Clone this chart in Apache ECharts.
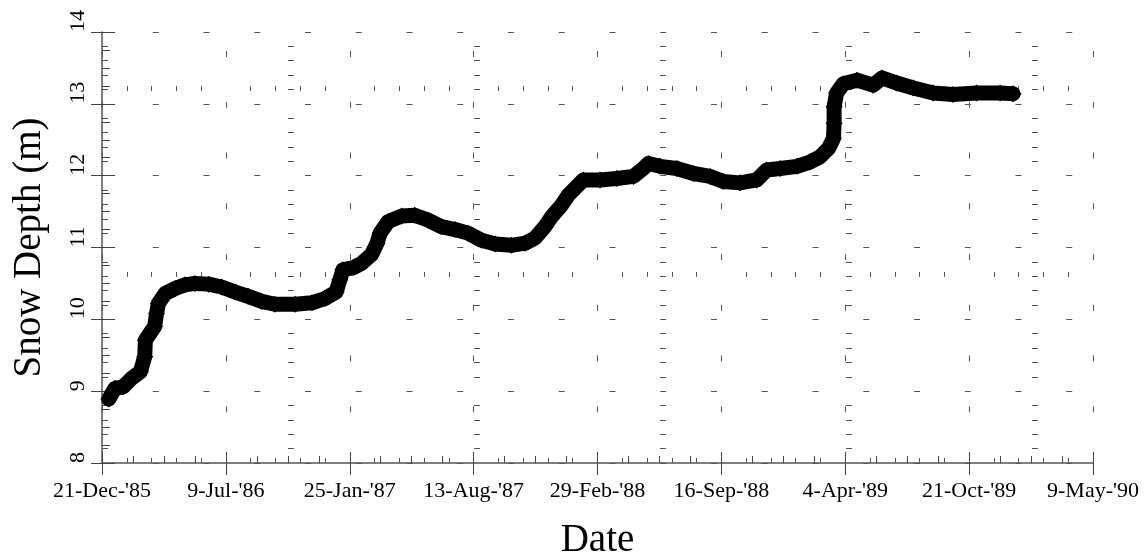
<!DOCTYPE html>
<html>
<head>
<meta charset="utf-8">
<script src="https://cdn.jsdelivr.net/npm/echarts@6/dist/echarts.min.js"></script>
<style>
  html, body { margin: 0; padding: 0; background: #fff; }
  #chart { width: 1146px; height: 555px; }
</style>
</head>
<body>
<div id="chart"></div>
<script>
// Days elapsed since 21-Dec-1985 for each reading
const sampleDay = [
  11, 21, 34, 48, 62, 69, 70, 77, 85, 88, 91, 102, 118, 134, 150, 172, 193, 215,
  236, 258, 279, 312, 339, 360, 378, 384, 389, 406, 419, 435, 444, 449, 462, 484,
  505, 527, 548, 570, 591, 613, 635, 661, 683, 699, 715, 726, 742, 753, 761, 777,
  804, 831, 858, 874, 882, 901, 928, 955, 982, 1003, 1030, 1057, 1073, 1095, 1122,
  1143, 1159, 1173, 1181, 1182, 1182, 1186, 1197, 1219, 1245, 1259, 1283, 1310,
  1342, 1374, 1412, 1450, 1471
];
// Snow depth (m) at each reading
const snowDepth = [
  8.89, 9.04, 9.06, 9.18, 9.27, 9.48, 9.71, 9.80, 9.90, 10.08, 10.22, 10.36, 10.43,
  10.48, 10.50, 10.49, 10.45, 10.38, 10.32, 10.25, 10.21, 10.21, 10.23, 10.29,
  10.38, 10.55, 10.69, 10.72, 10.78, 10.90, 11.06, 11.20, 11.36, 11.44, 11.45,
  11.38, 11.29, 11.25, 11.20, 11.10, 11.05, 11.03, 11.06, 11.13, 11.29, 11.43,
  11.59, 11.73, 11.80, 11.94, 11.94, 11.96, 11.99, 12.10, 12.17, 12.13, 12.10,
  12.03, 11.99, 11.92, 11.90, 11.94, 12.08, 12.10, 12.13, 12.19, 12.26, 12.38,
  12.52, 12.73, 12.96, 13.15, 13.28, 13.33, 13.26, 13.36, 13.29, 13.22, 13.15,
  13.13, 13.15, 13.15, 13.14
];
// Date labels every 200 days
const dateTickLabels = [
  "21-Dec-'85", "9-Jul-'86", "25-Jan-'87", "13-Aug-'87", "29-Feb-'88",
  "16-Sep-'88", "4-Apr-'89", "21-Oct-'89", "9-May-'90"
];
const DAY_STEP = 200;

const serif = "'Liberation Serif', 'Times New Roman', serif";
const tickColor = '#444';
const gridColor = '#555';

const points = sampleDay.map((d, i) => [d, snowDepth[i]]);

const chart = echarts.init(document.getElementById('chart'), null, { renderer: 'canvas' });

chart.setOption({
  animation: false,
  backgroundColor: '#fff',
  grid: { left: 102, right: 53, top: 32, bottom: 92, containLabel: false, outerBoundsMode: 'none' },
  xAxis: [
    {
      type: 'value', position: 'bottom', min: 0, max: 1600, interval: DAY_STEP,
      axisLine: { show: true, onZero: false, lineStyle: { color: '#555', width: 1.5 } },
      axisTick: { show: true, inside: false, length: 12, lineStyle: { color: tickColor } },
      minorTick: { show: false },
      axisLabel: {
        show: true, margin: 17, color: '#000', fontSize: 22, fontFamily: serif,
        formatter: v => dateTickLabels[Math.round(v / DAY_STEP)] || ''
      },
      splitLine: {
        show: true,
        lineStyle: { color: gridColor, width: 1, type: [6, 44.75], dashOffset: 31.75 }
      },
      minorSplitLine: {
        show: true,
        lineStyle: { color: gridColor, width: 1, type: [5, 181], dashOffset: 132 }
      },
      name: 'Date', nameLocation: 'middle', nameGap: 58,
      nameTextStyle: { color: '#000', fontSize: 39, fontFamily: serif }
    },
    {
      type: 'value', position: 'bottom', min: 0, max: 1600, interval: DAY_STEP,
      axisLine: { show: false, onZero: false },
      axisTick: { show: true, inside: true, length: 11, lineStyle: { color: tickColor } },
      minorTick: { show: true, splitNumber: 4, length: 7, lineStyle: { color: tickColor } },
      axisLabel: { show: false },
      splitLine: { show: false }
    }
  ],
  yAxis: [
    {
      type: 'value', position: 'left', min: 8, max: 14, interval: 1,
      axisLine: { show: true, onZero: false, lineStyle: { color: '#555', width: 1.5 } },
      axisTick: { show: true, inside: false, length: 11, lineStyle: { color: tickColor } },
      minorTick: { show: false },
      axisLabel: {
        show: true, rotate: 90, align: 'left', margin: 13,
        color: '#000', fontSize: 22, fontFamily: serif
      },
      splitLine: {
        show: true,
        lineStyle: { color: gridColor, width: 1, type: [6, 44.75], dashOffset: 0 }
      },
      minorSplitLine: {
        show: true,
        lineStyle: { color: gridColor, width: 1, type: [6, 180], dashOffset: 0 }
      },
      name: 'Snow Depth (m)', nameLocation: 'middle', nameGap: 53,
      nameTextStyle: { color: '#000', fontSize: 39, fontFamily: serif }
    },
    {
      type: 'value', position: 'left', min: 8, max: 14, interval: 1,
      axisLine: { show: false, onZero: false },
      axisTick: { show: true, inside: true, length: 13, lineStyle: { color: tickColor } },
      minorTick: { show: true, splitNumber: 4, length: 8, lineStyle: { color: tickColor } },
      axisLabel: { show: false },
      splitLine: { show: false }
    }
  ],
  series: [
    {
      type: 'line',
      xAxisIndex: 0, yAxisIndex: 0,
      data: points,
      symbol: 'diamond', symbolSize: 17, showAllSymbol: true,
      itemStyle: { color: '#000' },
      lineStyle: { color: '#000', width: 15, join: 'round', cap: 'round' },
      z: 5
    }
  ]
});
</script>
</body>
</html>
